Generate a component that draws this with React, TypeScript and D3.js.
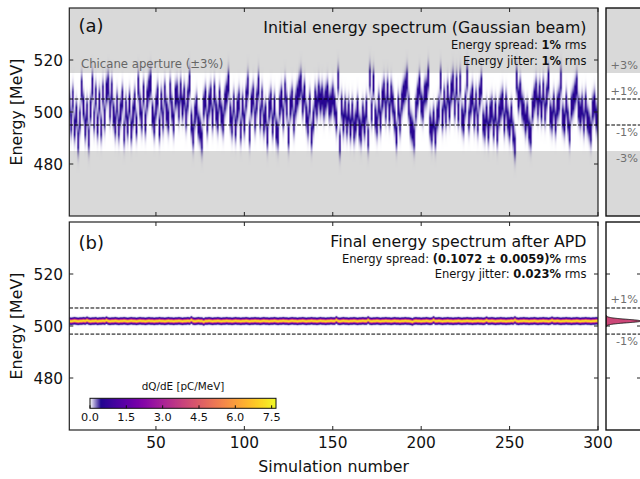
import React, { useMemo } from 'react';
import * as d3 from 'd3';

// ---------------- data ----------------
const shotTicks = [50, 100, 150, 200, 250, 300];
const energyTicks = [480, 500, 520];
const colorbarTicks = [0, 1.5, 3.0, 4.5, 6.0, 7.5];

// centroid energy [MeV] of each of the 300 simulated shots, initial spectrum
const initialCenters = [
  503,496,505,494,499,489,497,509,502,494,500,490,501,510,497,506,495,504,494,507,498,508,510,501,508,499,495,503,494,500,505,492,501,495,503,493,499,504,495,510,502,497,507,496,505,509,511,499,495,502,506,494,504,497,507,500,497,508,501,496,506,
  507,501,508,502,506,498,505,511,496,491,499,502,495,493,489,502,505,496,503,506,498,507,500,497,505,499,496,504,507,511,499,495,503,494,501,504,493,502,496,505,510,492,503,506,497,504,510,498,505,496,499,491,501,504,495,502,493,491,502,505,498,
  508,502,491,502,505,496,503,506,509,511,503,507,499,495,503,491,497,505,502,507,504,506,502,505,507,502,503,506,502,497,512,488,502,496,501,495,500,494,500,493,496,501,494,492,499,495,501,490,513,500,511,498,495,503,497,505,508,501,508,500,507,
  503,497,491,502,496,504,507,509,512,502,495,493,490,501,506,510,503,501,507,508,513,495,492,497,491,498,501,512,498,505,499,507,501,508,511,502,510,500,511,498,496,503,513,497,503,506,498,504,496,506,510,496,494,499,493,499,501,494,500,492,499,
  502,504,496,503,497,494,499,492,487,512,505,508,502,500,496,499,493,491,501,505,508,502,507,501,508,500,506,512,499,497,503,496,502,504,512,498,496,503,497,492,502,504,507,510,501,499,502,496,503,497,495,492,501,503,498,496,
];

// centroid energy [MeV] of each shot after APD
const finalCenters = [
  501.9,501.8,501.9,502.0,501.9,501.8,501.9,501.9,502.0,501.9,502.2,501.9,501.8,501.9,501.9,502.0,501.8,501.9,501.9,502.0,
  501.9,502.2,501.9,501.8,501.9,501.9,502.0,501.9,501.8,501.9,501.9,502.0,501.9,501.8,501.9,502.0,501.9,501.9,501.8,501.9,
  502.0,501.9,501.9,501.8,501.9,502.0,501.9,501.9,501.8,501.9,501.9,502.0,501.9,501.9,501.8,501.9,502.0,501.9,501.9,501.8,
  501.9,501.9,502.0,501.9,501.8,501.9,501.9,502.0,501.9,502.3,501.9,501.8,501.9,502.0,501.9,501.9,501.6,501.9,501.9,502.0,
  501.9,501.8,501.9,501.9,502.0,501.9,501.8,501.9,501.9,502.0,501.9,501.9,501.8,501.9,502.0,501.9,501.9,501.8,501.9,501.9,
  502.0,501.9,501.8,501.9,501.9,502.0,501.9,501.9,501.8,501.9,502.0,501.9,501.9,501.8,501.9,501.9,502.0,501.9,501.8,501.9,
  501.9,502.0,501.9,501.9,501.8,501.9,502.0,501.9,501.9,501.8,501.9,501.9,502.0,501.9,501.8,501.9,501.9,502.0,501.9,501.9,
  501.8,501.9,502.0,501.9,501.9,501.8,501.9,501.9,502.0,501.9,501.9,502.3,501.9,501.8,501.9,502.0,501.9,501.9,501.8,501.9,
  501.9,502.0,501.9,501.8,501.9,501.9,502.0,501.9,501.9,502.3,501.9,501.8,501.9,501.9,502.0,501.9,501.8,501.9,501.9,502.0,
  501.9,501.9,501.8,501.9,502.0,501.9,501.9,501.8,501.9,501.9,502.0,501.9,501.9,501.8,501.6,501.9,502.0,501.9,501.9,501.8,
  501.9,501.9,502.0,501.9,501.8,501.9,502.3,501.9,501.9,502.0,501.9,501.8,501.9,501.9,502.0,501.9,501.9,501.8,501.9,501.9,
  502.0,501.9,501.8,501.9,501.9,502.0,501.9,501.9,501.8,501.9,501.9,502.0,501.9,501.9,501.8,501.9,502.2,501.9,501.9,502.0,
  501.9,501.8,501.9,501.9,502.0,501.9,501.9,501.8,501.9,501.9,502.0,501.9,502.3,501.9,501.8,501.9,501.9,502.0,501.9,501.9,
  501.8,501.9,501.9,502.0,501.9,501.8,501.9,501.9,502.0,501.9,501.9,501.8,501.9,502.2,501.9,501.9,502.0,501.9,501.8,501.9,
  501.9,502.0,501.9,501.9,501.8,501.9,501.9,502.0,501.9,501.8,501.9,501.9,502.0,501.9,501.9,501.8,501.9,501.9,502.0,501.9,
];

const bunchCharge = 10.1;      // pC
const initialPeak = 0.62;      // pC/MeV, peak density of an initial shot
const initialSigma = 3.4;      // MeV (per-shot width as seen)
const finalSigma = 0.537;      // MeV
const nominalEnergy = 500;     // MeV
const colorMax = 7.68;         // pC/MeV
const whiteRamp = 0.45;        // pC/MeV where the white ramp reaches the plasma map

// ---------------- layout ----------------
const W = 640, H = 479;
const L = 69.3, R = 598;
const topA = 8, botA = 216, topB = 222, botB = 430;
const SL = 606, SR = 700;
const FONT = "'DejaVu Sans', sans-serif";

const x = d3.scaleLinear().domain([1, 300]).range([L, R]);
const yA = d3.scaleLinear().domain([460, 540]).range([botA, topA]);
const yB = d3.scaleLinear().domain([460, 540]).range([botB, topB]);
const cbX = d3.scaleLinear().domain([0, colorMax]).range([90, 276]);
const stripX = d3.scalePow().exponent(0.68).domain([0, 7.5]).range([SL, SL + 35.5]);

const white = d3.rgb('#ffffff');
const rampStart = 0.03;
const p0 = d3.rgb(d3.interpolatePlasma(rampStart));
function cmap(v: number) {
  if (v <= whiteRamp) {
    const t = Math.max(0, v) / whiteRamp;
    return d3.rgb(d3.interpolateRgb(white, p0)(t));
  }
  const t = Math.min(1, (v - whiteRamp) / (colorMax - whiteRamp));
  return d3.rgb(d3.interpolatePlasma(rampStart + (1 - rampStart) * t));
}

function gaussPeak(E: number, c: number, s: number, peak: number) {
  return peak * Math.exp(-((E - c) * (E - c)) / (2 * s * s));
}

function makeImage(centers: number[], sigma: number, peak: number, rows: number) {
  const canvas = document.createElement('canvas');
  canvas.width = centers.length;
  canvas.height = rows;
  const ctx = canvas.getContext('2d')!;
  const img = ctx.createImageData(centers.length, rows);
  for (let c = 0; c < centers.length; c++) {
    for (let r = 0; r < rows; r++) {
      const acc = [0, 0, 0];
      for (let k = 0; k < 4; k++) {
        const E = 540 - ((r + (k + 0.5) / 4) * 80) / rows;
        const col = cmap(gaussPeak(E, centers[c], sigma, peak));
        acc[0] += col.r; acc[1] += col.g; acc[2] += col.b;
      }
      const i = (r * centers.length + c) * 4;
      img.data[i] = acc[0] / 4;
      img.data[i + 1] = acc[1] / 4;
      img.data[i + 2] = acc[2] / 4;
      img.data[i + 3] = 255;
    }
  }
  ctx.putImageData(img, 0, 0);
  return canvas.toDataURL();
}

function Ticks({ y, top, bottom }: { y: d3.ScaleLinear<number, number>; top: number; bottom: number }) {
  const tl = 4;
  return (
    <g stroke="#222" strokeWidth={1}>
      {shotTicks.map((t) => (
        <g key={'x' + t}>
          <line x1={x(t)} x2={x(t)} y1={bottom} y2={bottom - tl} />
          <line x1={x(t)} x2={x(t)} y1={top} y2={top + tl} />
        </g>
      ))}
      {energyTicks.map((t) => (
        <g key={'y' + t}>
          <line x1={L} x2={L + tl} y1={y(t)} y2={y(t)} />
          <line x1={R} x2={R - tl} y1={y(t)} y2={y(t)} />
          <line x1={SL} x2={SL + tl} y1={y(t)} y2={y(t)} />
          <line x1={637} x2={641} y1={y(t)} y2={y(t)} />
        </g>
      ))}
    </g>
  );
}

export default function App() {
  const finalPeak = bunchCharge / (Math.sqrt(2 * Math.PI) * finalSigma);
  const imgA = useMemo(() => makeImage(initialCenters, initialSigma, initialPeak, 416), []);
  const imgB = useMemo(() => makeImage(finalCenters, finalSigma, finalPeak, 416), []);

  const finalMean = d3.mean(finalCenters) as number;

  const projection = useMemo(() => {
    const Es = d3.range(495, 509, 0.02);
    return Es.map((E) => ({ E, d: d3.mean(finalCenters, (c) => gaussPeak(E, c, finalSigma, finalPeak)) as number }));
  }, []);
  const projArea = d3
    .area<{ E: number; d: number }>()
    .x0(SL)
    .x1((p) => stripX(p.d))
    .y((p) => yB(p.E));
  const projPath = projArea(projection.filter((p) => p.d > 0.004)) || '';

  const imgX0 = x(0.5), imgX1 = x(300.5);
  const gradStops = d3.range(0, colorMax + 0.001, 0.04).map((v) => ({ o: v / colorMax, c: cmap(v).formatHex() }));

  const dash = '3.7,1.6';
  const grayOp = 0.15;

  const pctLabel = (txt: string, yLine: number, above: boolean) => (
    <text x={638} y={above ? yLine - 4.5 : yLine + 11.3} textAnchor="end" fontSize={11.3} fill="#707070" fontFamily={FONT}>
      {txt}
    </text>
  );

  return (
    <svg width={W} height={H} style={{ position: 'absolute', left: 0, top: 0 }} fontFamily={FONT}>
      <defs>
        <clipPath id="clipA"><rect x={L} y={topA} width={R - L} height={botA - topA} /></clipPath>
        <clipPath id="clipB"><rect x={L} y={topB} width={R - L} height={botB - topB} /></clipPath>
        <clipPath id="clipSA"><rect x={SL} y={topA} width={SR - SL} height={botA - topA} /></clipPath>
        <clipPath id="clipSB"><rect x={SL} y={topB} width={SR - SL} height={botB - topB} /></clipPath>
        <linearGradient id="cbar" x1="0" x2="1" y1="0" y2="0">
          {gradStops.map((s, i) => <stop key={i} offset={s.o} stopColor={s.c} />)}
        </linearGradient>
      </defs>
      <rect x={0} y={0} width={W} height={H} fill="#fff" />

      {/* ---------- panel (a) ---------- */}
      <g clipPath="url(#clipA)">
        <rect x={L} y={topA} width={R - L} height={botA - topA} fill="#fff" />
        <image href={imgA} x={imgX0} y={topA} width={imgX1 - imgX0} height={botA - topA} preserveAspectRatio="none" />
        <rect x={L} y={yA(540)} width={R - L} height={yA(nominalEnergy * 1.03) - yA(540)} fill="#000" opacity={grayOp} />
        <rect x={L} y={yA(nominalEnergy * 0.97)} width={R - L} height={yA(460) - yA(nominalEnergy * 0.97)} fill="#000" opacity={grayOp} />
        {[1.01, 0.99].map((f) => (
          <line key={f} x1={L} x2={R} y1={yA(nominalEnergy * f)} y2={yA(nominalEnergy * f)} stroke="#000" strokeWidth={1} strokeDasharray={dash} />
        ))}
      </g>
      <text x={78.5} y={31.5} fontSize={18} fill="#111">(a)</text>
      <text x={81} y={67.5} fontSize={11.7} fill="#666">Chicane aperture (±3%)</text>
      <text x={586.5} y={33.2} fontSize={15.8} textAnchor="end" fill="#111">Initial energy spectrum (Gaussian beam)</text>
      <text x={586.5} y={48.6} fontSize={11.5} textAnchor="end" fill="#111">
        Energy spread: <tspan fontWeight="bold">1%</tspan> rms
      </text>
      <text x={586.5} y={64.6} fontSize={11.5} textAnchor="end" fill="#111">
        Energy jitter: <tspan fontWeight="bold">1%</tspan> rms
      </text>
      <Ticks y={yA} top={topA} bottom={botA} />
      <rect x={L} y={topA} width={R - L} height={botA - topA} fill="none" stroke="#222" strokeWidth={1.2} />

      {/* strip (a) */}
      <g clipPath="url(#clipSA)">
        <rect x={SL} y={topA} width={SR - SL} height={botA - topA} fill="#fff" />
        <rect x={SL} y={yA(540)} width={SR - SL} height={yA(nominalEnergy * 1.03) - yA(540)} fill="#000" opacity={grayOp} />
        <rect x={SL} y={yA(nominalEnergy * 0.97)} width={SR - SL} height={yA(460) - yA(nominalEnergy * 0.97)} fill="#000" opacity={grayOp} />
        {[1.01, 0.99].map((f) => (
          <line key={f} x1={SL} x2={SR} y1={yA(nominalEnergy * f)} y2={yA(nominalEnergy * f)} stroke="#000" strokeWidth={1} strokeDasharray={dash} />
        ))}
      </g>
      {pctLabel('+3%', yA(nominalEnergy * 1.03), true)}
      {pctLabel('+1%', yA(nominalEnergy * 1.01), true)}
      {pctLabel('-1%', yA(nominalEnergy * 0.99), false)}
      {pctLabel('-3%', yA(nominalEnergy * 0.97), false)}
      <rect x={SL} y={topA} width={SR - SL} height={botA - topA} fill="none" stroke="#111" strokeWidth={1.4} />

      {/* ---------- panel (b) ---------- */}
      <g clipPath="url(#clipB)">
        <rect x={L} y={topB} width={R - L} height={botB - topB} fill="#fff" />
        <image href={imgB} x={imgX0} y={topB} width={imgX1 - imgX0} height={botB - topB} preserveAspectRatio="none" />
        {[1.01, 0.99].map((f) => (
          <line key={f} x1={L} x2={R} y1={yB(finalMean * f)} y2={yB(finalMean * f)} stroke="#000" strokeWidth={1} strokeDasharray={dash} />
        ))}
      </g>
      <text x={78.5} y={249} fontSize={18} fill="#111">(b)</text>
      <text x={586.5} y={247.4} fontSize={15.8} textAnchor="end" fill="#111">Final energy spectrum after APD</text>
      <text x={586.5} y={262.8} fontSize={11.5} textAnchor="end" fill="#111">
        Energy spread: <tspan fontWeight="bold">(0.1072 ± 0.0059)%</tspan> rms
      </text>
      <text x={586.5} y={278.4} fontSize={11.5} textAnchor="end" fill="#111">
        Energy jitter: <tspan fontWeight="bold">0.023%</tspan> rms
      </text>

      {/* colorbar */}
      <text x={(cbX(0) + cbX(colorMax)) / 2} y={390} fontSize={10.4} textAnchor="middle" fill="#111">dQ/dE [pC/MeV]</text>
      <rect x={cbX(0)} y={398.3} width={cbX(colorMax) - cbX(0)} height={10} fill="url(#cbar)" stroke="#111" strokeWidth={1} />
      {colorbarTicks.map((t) => (
        <g key={t}>
          <line x1={cbX(t)} x2={cbX(t)} y1={408.3} y2={405.3} stroke="#111" strokeWidth={1} />
          <text x={cbX(t)} y={421.2} fontSize={11.3} textAnchor="middle" fill="#111">{t.toFixed(1)}</text>
        </g>
      ))}

      <Ticks y={yB} top={topB} bottom={botB} />
      <rect x={L} y={topB} width={R - L} height={botB - topB} fill="none" stroke="#222" strokeWidth={1.2} />

      {/* strip (b) */}
      <g clipPath="url(#clipSB)">
        {[1.01, 0.99].map((f) => (
          <line key={f} x1={SL} x2={SR} y1={yB(finalMean * f)} y2={yB(finalMean * f)} stroke="#000" strokeWidth={1} strokeDasharray={dash} />
        ))}
        <path d={projPath} fill={d3.interpolatePlasma(0.5)} stroke="#111" strokeWidth={0.9} />
      </g>
      {pctLabel('+1%', yB(finalMean * 1.01), true)}
      {pctLabel('-1%', yB(finalMean * 0.99), false)}
      <rect x={SL} y={topB} width={SR - SL} height={botB - topB} fill="none" stroke="#111" strokeWidth={1.4} />

      {/* axes labels */}
      {energyTicks.map((t) => (
        <g key={t}>
          <text x={63} y={yA(t) + 5.6} fontSize={15.4} textAnchor="end" fill="#111">{t}</text>
          <text x={63} y={yB(t) + 5.6} fontSize={15.4} textAnchor="end" fill="#111">{t}</text>
        </g>
      ))}
      {shotTicks.map((t) => (
        <text key={t} x={x(t)} y={448.2} fontSize={15.4} textAnchor="middle" fill="#111">{t}</text>
      ))}
      <text x={(L + R) / 2} y={472} fontSize={15.8} textAnchor="middle" fill="#111">Simulation number</text>
      <text transform={`translate(21.6,${(topA + botA) / 2}) rotate(-90)`} fontSize={15.8} textAnchor="middle" fill="#111">Energy [MeV]</text>
      <text transform={`translate(21.6,${(topB + botB) / 2}) rotate(-90)`} fontSize={15.8} textAnchor="middle" fill="#111">Energy [MeV]</text>
    </svg>
  );
}
